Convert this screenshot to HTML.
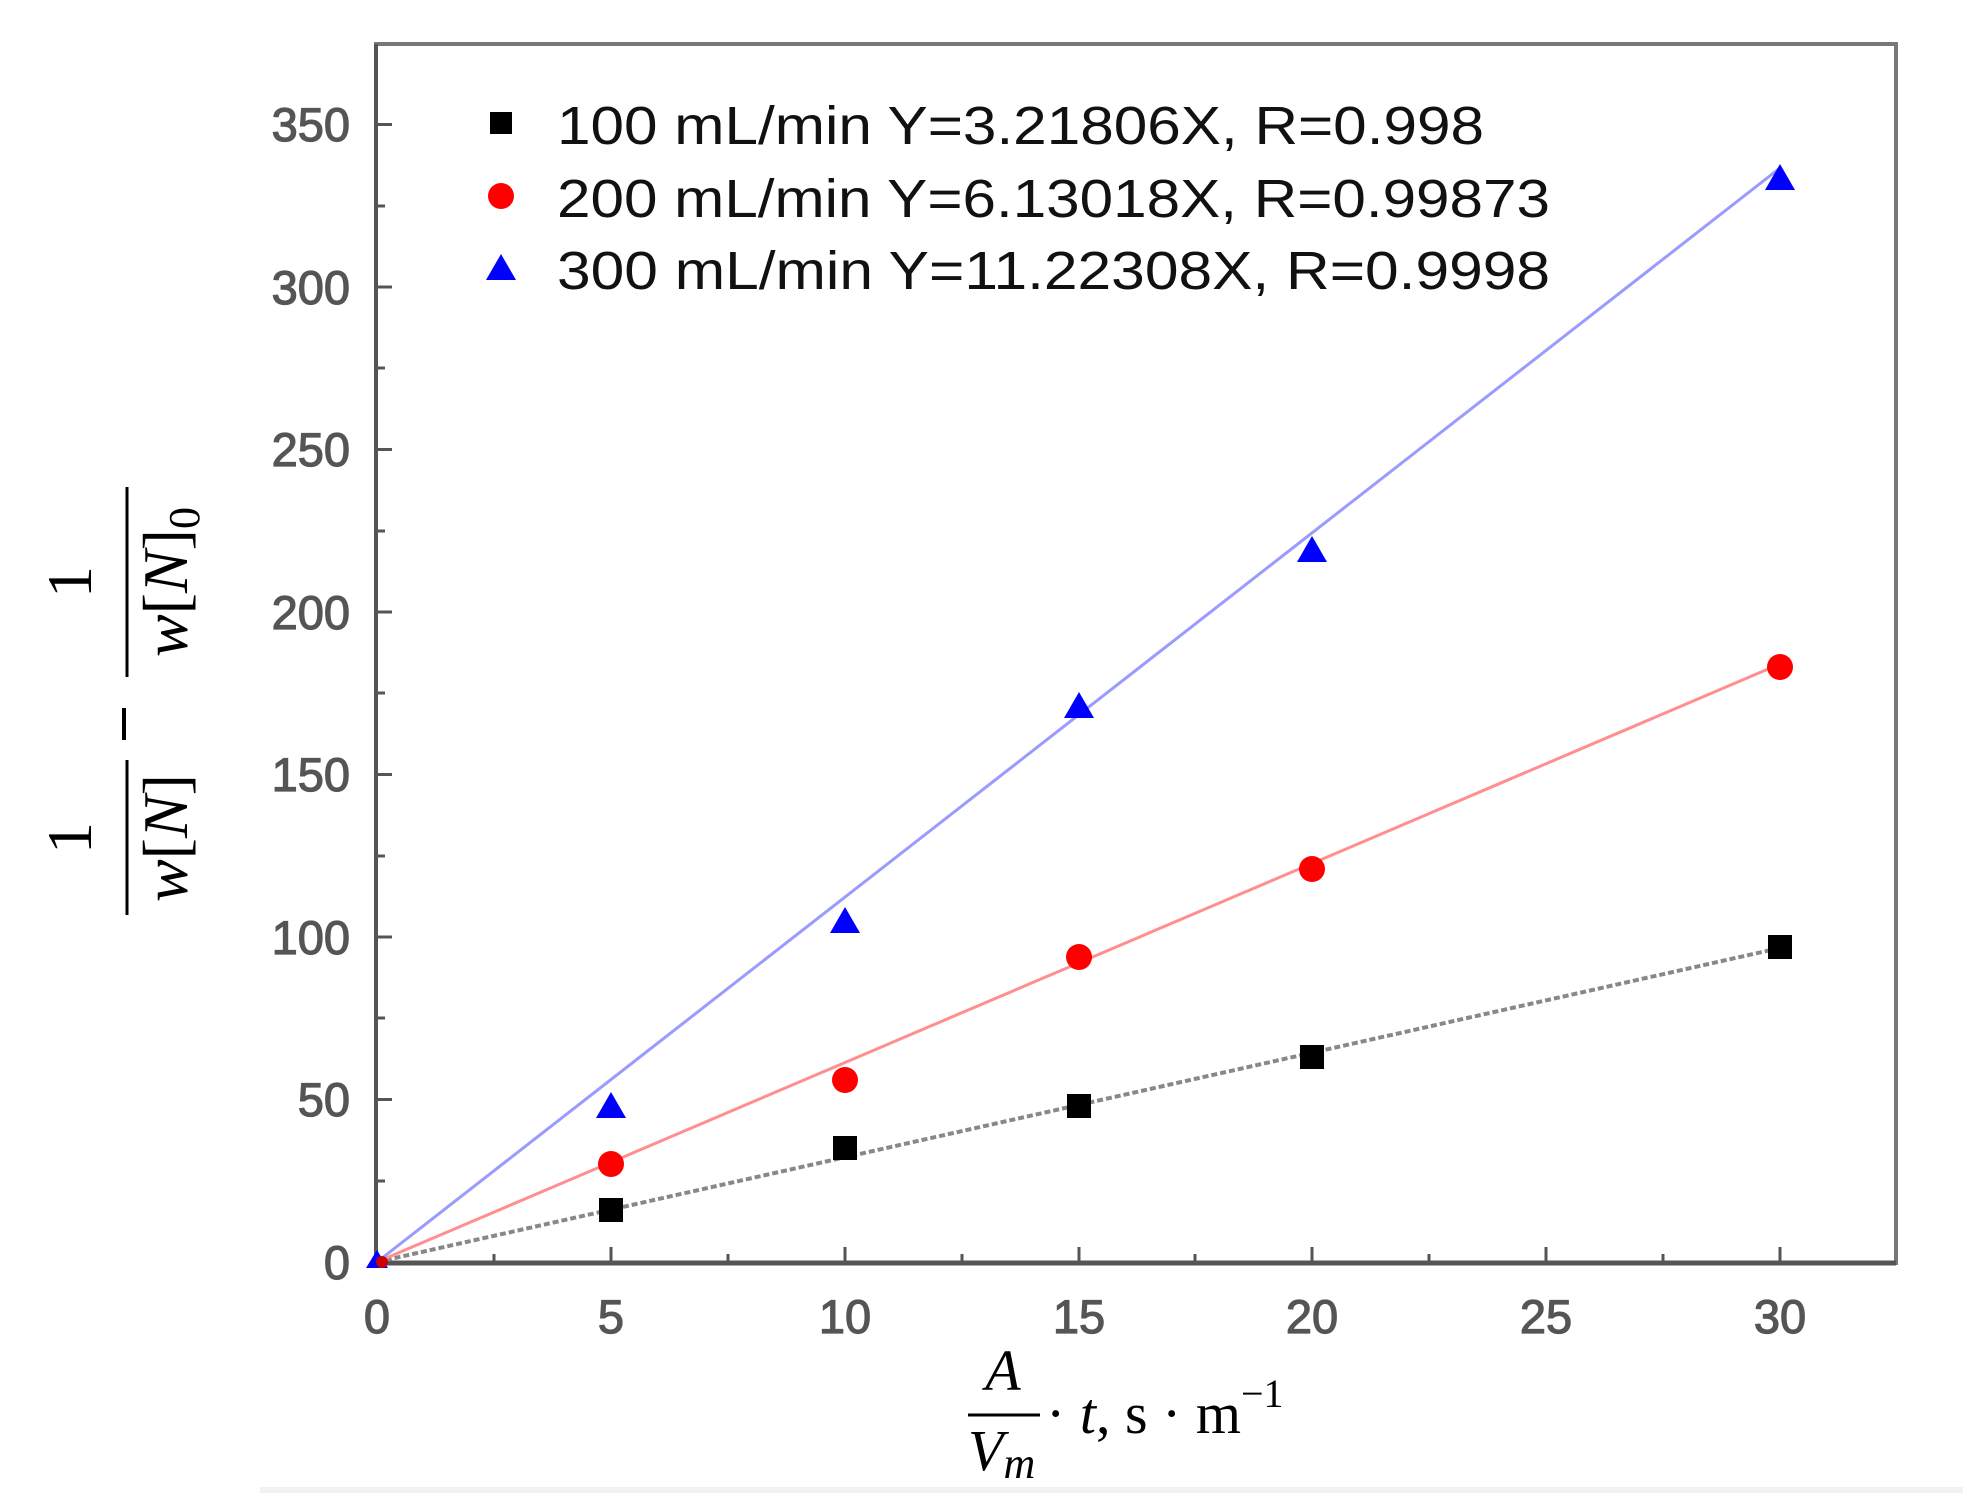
<!DOCTYPE html>
<html><head><meta charset="utf-8"><style>body{margin:0;background:#fff}svg{display:block}</style></head>
<body>
<svg width="1963" height="1503" viewBox="0 0 1963 1503" xmlns="http://www.w3.org/2000/svg">
<rect width="1963" height="1503" fill="#fff"/>
<line x1="260" y1="1490" x2="1963" y2="1490" stroke="#f2f2f2" stroke-width="6"/>
<!-- frame -->
<rect x="376" y="44" width="1520" height="1219" fill="none" stroke="#777" stroke-width="4"/>
<line x1="376" y1="1263" x2="1896" y2="1263" stroke="#555" stroke-width="5"/>
<line x1="376" y1="44" x2="376" y2="1263" stroke="#555" stroke-width="4"/>
<g stroke="#555" stroke-width="3">
<line x1="611" y1="1263" x2="611" y2="1247"/><line x1="845" y1="1263" x2="845" y2="1247"/><line x1="1079" y1="1263" x2="1079" y2="1247"/><line x1="1312" y1="1263" x2="1312" y2="1247"/><line x1="1546" y1="1263" x2="1546" y2="1247"/><line x1="1780" y1="1263" x2="1780" y2="1247"/>
<line x1="494" y1="1263" x2="494" y2="1254"/><line x1="728" y1="1263" x2="728" y2="1254"/><line x1="962" y1="1263" x2="962" y2="1254"/><line x1="1195" y1="1263" x2="1195" y2="1254"/><line x1="1429" y1="1263" x2="1429" y2="1254"/><line x1="1663" y1="1263" x2="1663" y2="1254"/>
<line x1="376" y1="1099.5" x2="392" y2="1099.5"/><line x1="376" y1="937" x2="392" y2="937"/><line x1="376" y1="774.5" x2="392" y2="774.5"/><line x1="376" y1="612" x2="392" y2="612"/><line x1="376" y1="449.5" x2="392" y2="449.5"/><line x1="376" y1="287" x2="392" y2="287"/><line x1="376" y1="124.5" x2="392" y2="124.5"/>
<line x1="376" y1="1181" x2="385" y2="1181"/><line x1="376" y1="1018" x2="385" y2="1018"/><line x1="376" y1="856" x2="385" y2="856"/><line x1="376" y1="693" x2="385" y2="693"/><line x1="376" y1="531" x2="385" y2="531"/><line x1="376" y1="368" x2="385" y2="368"/><line x1="376" y1="206" x2="385" y2="206"/>
</g>
<g font-family="Liberation Sans, sans-serif" font-size="47" fill="#555" stroke="#555" stroke-width="1.2">
<g text-anchor="middle">
<text x="377" y="1333">0</text><text x="611" y="1333">5</text><text x="845" y="1333">10</text><text x="1079" y="1333">15</text><text x="1312" y="1333">20</text><text x="1546" y="1333">25</text><text x="1780" y="1333">30</text>
</g>
<g text-anchor="end">
<text x="350" y="1279">0</text><text x="350" y="1116">50</text><text x="350" y="954">100</text><text x="350" y="791">150</text><text x="350" y="629">200</text><text x="350" y="466">250</text><text x="350" y="304">300</text><text x="350" y="141">350</text>
</g>
</g>
<line x1="377" y1="1262" x2="1780" y2="948" stroke="#888" stroke-width="4" stroke-dasharray="6,3"/>
<line x1="377" y1="1262" x2="1780" y2="664" stroke="#ff8f8f" stroke-width="3"/>
<line x1="377" y1="1262" x2="1780" y2="168" stroke="#9a9aff" stroke-width="3"/>
<g fill="#000">
<rect x="599" y="1198" width="24" height="24"/><rect x="833" y="1136" width="24" height="24"/><rect x="1067" y="1094" width="24" height="24"/><rect x="1300" y="1045" width="24" height="24"/><rect x="1768" y="935" width="24" height="24"/>
</g>
<g fill="#f00">
<circle cx="611" cy="1164" r="13"/><circle cx="845" cy="1080" r="13"/><circle cx="1079" cy="957" r="13"/><circle cx="1312" cy="869" r="13"/><circle cx="1780" cy="667" r="13"/>
</g>
<g fill="#00f">
<polygon points="611,1092 626,1118 596,1118"/><polygon points="845,907 860,933 830,933"/><polygon points="1079,692 1094,718 1064,718"/><polygon points="1312,536 1327,562 1297,562"/><polygon points="1780,164 1795,190 1765,190"/>
</g>
<polygon points="377,1250 388,1268 366,1268" fill="#00f"/><circle cx="382" cy="1262" r="6" fill="#c00"/>
<rect x="490" y="112" width="22" height="22" fill="#000"/>
<circle cx="501" cy="196" r="13" fill="#f00"/>
<polygon points="501,254 516,280 486,280" fill="#00f"/>
<g font-family="Liberation Sans, sans-serif" font-size="54" fill="#111">
<text x="557" y="144" textLength="927" lengthAdjust="spacingAndGlyphs">100 mL/min Y=3.21806X, R=0.998</text>
<text x="557" y="217" textLength="993" lengthAdjust="spacingAndGlyphs">200 mL/min Y=6.13018X, R=0.99873</text>
<text x="557" y="289" textLength="993" lengthAdjust="spacingAndGlyphs">300 mL/min Y=11.22308X, R=0.9998</text>
</g>
<g font-family="Liberation Serif, serif" font-size="64" fill="#000">
<g transform="translate(127,700) rotate(-90)">
<text x="-138" y="-36" text-anchor="middle">1</text>
<line x1="-215" y1="0" x2="-60" y2="0" stroke="#000" stroke-width="3"/>
<text x="-138" y="60" text-anchor="middle" font-style="italic">w<tspan font-style="normal">[</tspan>N<tspan font-style="normal">]</tspan></text>
<line x1="-40" y1="-3" x2="-8" y2="-3" stroke="#000" stroke-width="4"/>
<text x="118" y="-36" text-anchor="middle">1</text>
<line x1="23" y1="0" x2="213" y2="0" stroke="#000" stroke-width="3"/>
<text x="118" y="60" text-anchor="middle" font-style="italic">w<tspan font-style="normal">[</tspan>N<tspan font-style="normal">]</tspan><tspan font-style="normal" font-size="44" dy="12">0</tspan></text>
</g>
<g font-size="58">
<text x="1003" y="1390" text-anchor="middle" font-style="italic">A</text>
<line x1="968" y1="1415" x2="1040" y2="1415" stroke="#000" stroke-width="3"/>
<text x="968" y="1470" font-style="italic">V<tspan font-size="44" dy="8">m</tspan></text>
<text x="1046" y="1433">· <tspan font-style="italic">t</tspan>, s · m<tspan font-size="40" dy="-26">−1</tspan></text>
</g>
</g>
</svg>
</body></html>
